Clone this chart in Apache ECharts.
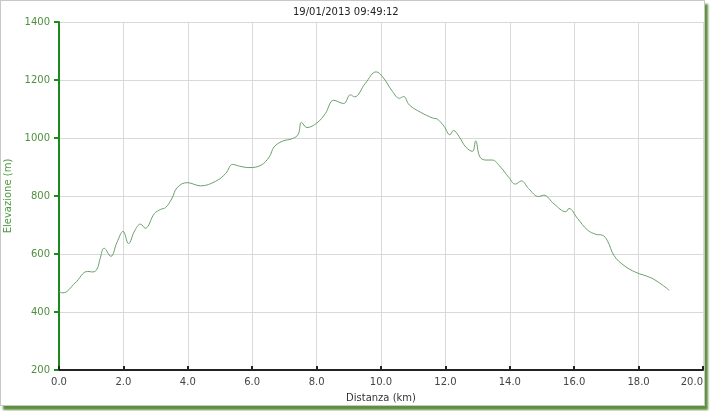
<!DOCTYPE html>
<html>
<head>
<meta charset="utf-8">
<script src="https://cdn.jsdelivr.net/npm/echarts@6/dist/echarts.min.js"></script>
<style>
html,body{margin:0;padding:0;background:#fff;width:710px;height:411px;overflow:hidden;}
#frame{position:absolute;left:0;top:0;width:703px;height:404px;border:1px solid #c8c8c8;box-shadow:3px 4px 2px #5e8f3e;background:#fff;}
#chart{position:absolute;left:0;top:0;width:710px;height:411px;}
</style>
</head>
<body>
<div id="frame"></div>
<div id="chart"></div>
<script>
const titleText = "19/01/2013 09:49:12";
const xName = "Distanza (km)";
const yName = "Elevazione (m)";
const distanceKm = [0.0,0.12,0.5,0.89,1.05,1.18,1.28,1.40,1.61,1.80,1.99,2.16,2.35,2.53,2.68,2.96,3.16,3.31,3.50,3.67,3.98,4.40,4.87,5.18,5.39,5.60,5.90,6.27,6.53,6.68,6.94,7.25,7.43,7.53,7.70,8.01,8.27,8.53,8.84,9.05,9.18,9.51,9.85,10.05,10.36,10.57,10.70,10.88,11.24,11.60,11.75,11.96,12.14,12.25,12.42,12.63,12.84,12.94,13.07,13.25,13.45,13.71,13.97,14.17,14.36,14.58,14.90,15.05,15.38,15.74,15.84,16.10,16.41,16.67,16.87,17.03,17.24,17.55,17.91,18.38,18.69,18.95];
const elevationM = [470,466,500,540,538,548,585,620,592,640,678,636,680,703,689,739,754,760,790,829,846,835,851,878,909,903,898,906,935,969,989,998,1013,1054,1036,1052,1084,1130,1119,1149,1142,1188,1228,1211,1160,1137,1143,1114,1088,1069,1065,1040,1011,1026,1006,969,954,990,935,924,924,900,864,841,852,826,798,803,772,746,757,723,683,668,665,646,594,560,537,518,497,475];
const points = distanceKm.map((d,i)=>[d, elevationM[i]]);

const chart = echarts.init(document.getElementById('chart'), null, {renderer:'canvas'});
chart.setOption({
  backgroundColor: 'transparent',
  animation: false,
  title: {
    text: titleText, left: 288, top: 2,
    textStyle: {fontFamily:'DejaVu Sans', fontSize: 10, fontWeight: 'normal', color: '#222'}
  },
  grid: {left: 59, right: 7, top: 22, bottom: 41, containLabel: false, outerBoundsMode: 'none'},
  xAxis: {
    type: 'value', min: 0, max: 20, interval: 2,
    name: xName, nameLocation: 'middle', nameGap: 23,
    nameTextStyle: {fontFamily:'DejaVu Sans', fontSize: 10, color:'#333'},
    axisLine: {show: true, lineStyle: {color:'#222', width: 2}},
    axisTick: {show: true, length: 4, inside: true, lineStyle:{color:'#222', width: 2}},
    axisLabel: {fontFamily:'DejaVu Sans', fontSize: 10, color:'#444', margin: 7, alignMaxLabel: 'right', formatter: v => v.toFixed(1)},
    splitLine: {show: true, lineStyle: {color:'#d9d9d9', width: 1}}
  },
  yAxis: {
    type: 'value', min: 200, max: 1400, interval: 200,
    name: yName, nameLocation: 'middle', nameGap: 40, nameRotate: 90,
    nameTextStyle: {fontFamily:'DejaVu Sans', fontSize: 10, color:'#4f9a3f'},
    axisLine: {show: true, lineStyle: {color:'#1d8a1d', width: 2}},
    axisTick: {show: true, length: 5, lineStyle:{color:'#1d8a1d', width: 2}},
    axisLabel: {fontFamily:'DejaVu Sans', fontSize: 10, color:'#4f8f3f', margin: 9, formatter: v => String(v)},
    splitLine: {show: true, lineStyle: {color:'#d9d9d9', width: 1}}
  },
  series: [{
    type: 'line', data: points, smooth: 0.4, showSymbol: false,
    lineStyle: {color:'#6a9f6a', width: 1}
  }]
});
</script>
</body>
</html>
